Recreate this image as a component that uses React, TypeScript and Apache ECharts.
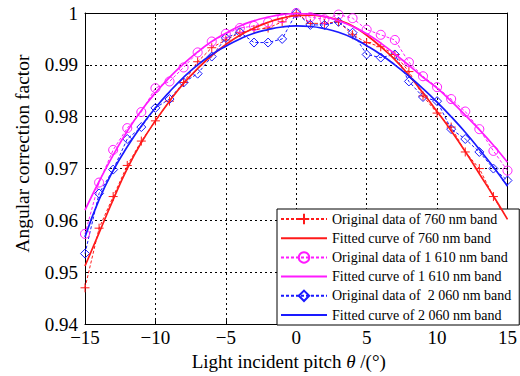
import React, { useEffect, useRef } from "react";
import * as echarts from "echarts";

const angles = [-15, -14, -13, -12, -11, -10, -9, -8, -7, -6, -5, -4, -3, -2, -1, 0, 1, 2, 3, 4, 5, 6, 7, 8, 9, 10, 11, 12, 13, 14, 15];

const orig760 = [0.9470, 0.9585, 0.9646, 0.9706, 0.9753, 0.9792, 0.9830, 0.9866, 0.9906, 0.9933, 0.9948, 0.9962, 0.9968, 0.9971, 0.9983, 1.0000, 0.9980, 0.9980, 0.9983, 0.9958, 0.9943, 0.9935, 0.9920, 0.9887, 0.9840, 0.9807, 0.9780, 0.9732, 0.9700, 0.9646, 0.9599];
const fit760 = [0.9512, 0.9576, 0.9640, 0.9700, 0.9750, 0.9792, 0.9830, 0.9864, 0.9893, 0.9918, 0.9939, 0.9957, 0.9971, 0.9982, 0.9990, 0.9995, 0.9996, 0.9993, 0.9986, 0.9975, 0.9957, 0.9935, 0.9910, 0.9880, 0.9846, 0.9810, 0.9773, 0.9733, 0.9690, 0.9647, 0.9602];
const orig1610 = [0.9574, 0.9673, 0.9736, 0.9778, 0.9809, 0.9855, 0.9868, 0.9895, 0.9924, 0.9945, 0.9960, 0.9971, 0.9975, 0.9982, 0.9990, 1.0000, 0.9992, 0.9988, 0.9997, 0.9990, 0.9968, 0.9958, 0.9948, 0.9905, 0.9878, 0.9857, 0.9834, 0.9810, 0.9776, 0.9734, 0.9696];
const fit1610 = [0.9620, 0.9675, 0.9726, 0.9772, 0.9812, 0.9846, 0.9876, 0.9902, 0.9925, 0.9945, 0.9961, 0.9975, 0.9985, 0.9992, 0.9997, 0.9999, 0.9998, 0.9993, 0.9985, 0.9974, 0.9960, 0.9942, 0.9921, 0.9899, 0.9876, 0.9855, 0.9830, 0.9803, 0.9775, 0.9745, 0.9712];
const orig2060 = [0.9536, 0.9652, 0.9698, 0.9757, 0.9780, 0.9817, 0.9834, 0.9866, 0.9883, 0.9916, 0.9952, 0.9963, 0.9943, 0.9943, 0.9950, 1.0000, 0.9977, 0.9977, 0.9983, 0.9962, 0.9920, 0.9914, 0.9920, 0.9868, 0.9838, 0.9830, 0.9776, 0.9757, 0.9732, 0.9700, 0.9677];
const fit2060 = [0.9568, 0.9640, 0.9696, 0.9742, 0.9782, 0.9817, 0.9848, 0.9876, 0.9900, 0.9920, 0.9936, 0.9950, 0.9961, 0.9968, 0.9973, 0.9975, 0.9974, 0.9970, 0.9963, 0.9952, 0.9937, 0.9920, 0.9900, 0.9878, 0.9854, 0.9828, 0.9800, 0.9770, 0.9737, 0.9703, 0.9666];

const seriesNames = [
  "Original data of 760 nm band",
  "Fitted curve of 760 nm band",
  "Original data of 1 610 nm band",
  "Fitted curve of 1 610 nm band",
  "Original data of  2 060 nm band",
  "Fitted curve of 2 060 nm band",
];

const RED = "#ff1a1a";
const MAG = "#ff1aff";
const BLUE = "#1a1aff";
const FONT = "'Liberation Serif', 'Times New Roman', serif";

const pair = (ys: number[]) => angles.map((a, i) => [a, ys[i]]);

export default function App() {
  const ref = useRef<HTMLDivElement>(null);
  useEffect(() => {
    if (!ref.current) return;
    const chart = echarts.init(ref.current, null, { renderer: "svg" });
    const origSeries = (name: string, data: number[], color: string, symbol: string, size: number) => ({
      name,
      type: "line",
      data: pair(data),
      symbol,
      symbolSize: size,
      showSymbol: true,
      lineStyle: { color, width: 1, type: [3, 2] },
      itemStyle: { color: "rgba(255,255,255,0)", borderColor: color, borderWidth: 1 },
      z: 3,
    });
    const fitSeries = (name: string, data: number[], color: string) => ({
      name,
      type: "line",
      data: pair(data),
      symbol: "none",
      smooth: true,
      lineStyle: { color, width: 1.7 },
      itemStyle: { color },
      z: 4,
    });
    const axisCommon = {
      axisLine: { show: true, onZero: false, lineStyle: { color: "#000", width: 1 } },
      axisTick: { show: true, inside: true, length: 4, lineStyle: { color: "#000" } },
    };
    chart.setOption({
      animation: false,
      backgroundColor: "#fff",
      textStyle: { fontFamily: FONT },
      grid: { left: 85, right: 5, top: 13, bottom: 49, containLabel: false },
      legend: {
        data: seriesNames.map((n, i) =>
          i % 2 === 1 ? { name: n, itemStyle: { opacity: 0 } } : { name: n }
        ),
        orient: "vertical",
        left: 277,
        top: 209,
        padding: [3, 8, 3, 3],
        itemWidth: 46,
        itemHeight: 13,
        itemGap: 5.2,
        backgroundColor: "#fff",
        borderColor: "#000",
        borderWidth: 1,
        borderRadius: 0,
        textStyle: { fontFamily: FONT, fontSize: 14, color: "#000" },
      },
      xAxis: [
        {
          type: "value",
          min: -15,
          max: 15,
          interval: 5,
          ...axisCommon,
          axisLabel: {
            color: "#000",
            fontFamily: FONT,
            fontSize: 19,
            margin: 4,
            formatter: (v: number) => (v < 0 ? "\u2212" + Math.abs(v) : String(v)),
          },
          splitLine: { show: true, lineStyle: { color: "#000", width: 1, type: [2, 3] } },
          name: "{n|Light incident pitch }{t|θ}{n| /(°)}",
          nameLocation: "middle",
          nameGap: 23,
          nameTextStyle: {
            padding: [0, 15, 0, 0],
            rich: {
              n: { fontFamily: FONT, fontSize: 19, color: "#000" },
              t: { fontFamily: FONT, fontSize: 19, color: "#000", fontStyle: "italic" },
            },
          },
        },
        {
          type: "value",
          position: "top",
          min: -15,
          max: 15,
          interval: 5,
          ...axisCommon,
          axisLabel: { show: false },
          splitLine: { show: false },
        },
      ],
      yAxis: [
        {
          type: "value",
          min: 0.94,
          max: 1,
          interval: 0.01,
          ...axisCommon,
          axisLabel: {
            color: "#000",
            fontFamily: FONT,
            fontSize: 19,
            margin: 7,
            formatter: (v: number) => String(Math.round(v * 100) / 100),
          },
          splitLine: { show: true, lineStyle: { color: "#000", width: 1, type: [2, 3] } },
          name: "Angular correction factor",
          nameLocation: "middle",
          nameGap: 53,
          nameTextStyle: { fontFamily: FONT, fontSize: 19.5, color: "#000", padding: [0, 0, 0, 30] },
        },
        {
          type: "value",
          position: "right",
          min: 0.94,
          max: 1,
          interval: 0.01,
          ...axisCommon,
          axisLabel: { show: false },
          splitLine: { show: false },
        },
      ],
      series: [
        origSeries(seriesNames[0], orig760, RED, "path://M5,0L5,10M0,5L10,5", 9),
        fitSeries(seriesNames[1], fit760, RED),
        origSeries(seriesNames[2], orig1610, MAG, "circle", 9),
        fitSeries(seriesNames[3], fit1610, MAG),
        origSeries(seriesNames[4], orig2060, BLUE, "diamond", 9),
        fitSeries(seriesNames[5], fit2060, BLUE),
      ],
    });
    return () => chart.dispose();
  }, []);
  return (
    <div
      ref={ref}
      style={{ position: "fixed", left: 0, top: 0, width: 520, height: 376 }}
    />
  );
}
